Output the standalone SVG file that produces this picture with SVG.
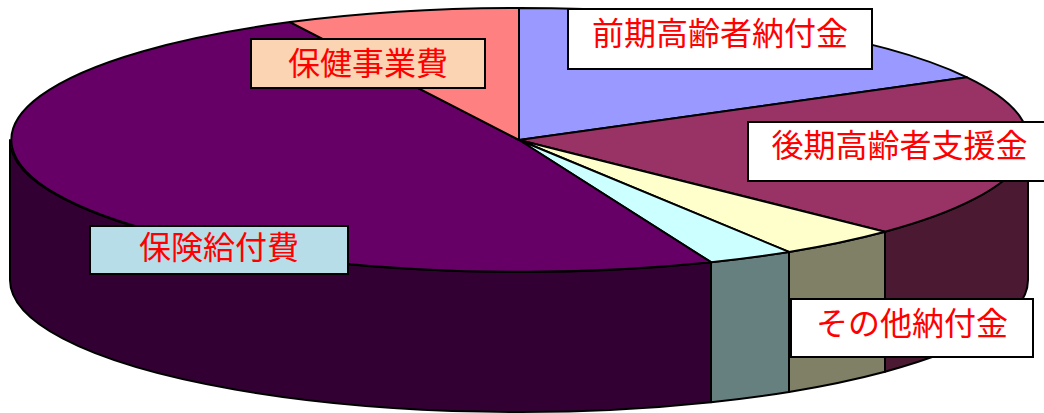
<svg xmlns="http://www.w3.org/2000/svg" width="1044" height="413" viewBox="0 0 1044 413">
<style>
.s{stroke:#000;stroke-width:2;stroke-linejoin:round}
.box{stroke:#000;stroke-width:2}
.lbl{font-family:"Noto Sans CJK JP","Noto Sans CJK SC",sans-serif;font-size:32px;fill:#FF0000;text-anchor:middle}
</style>
<rect width="1044" height="413" fill="#fff"/>
<g id="pie">
<g id="sides">
<path class="s" fill="#4C1933" d="M1028,140 A509,132 0 0 1 885,231.7 L885,371.7 A509,132 0 0 0 1028,280 Z"/>
<path class="s" fill="#808066" d="M885,231.7 A509,132 0 0 1 789,251.9 L789,391.9 A509,132 0 0 0 885,371.7 Z"/>
<path class="s" fill="#668080" d="M789,251.9 A509,132 0 0 1 711,262.2 L711,402.2 A509,132 0 0 0 789,391.9 Z"/>
<path class="s" fill="#330033" d="M711,262.2 A509,132 0 0 1 10,140 L10,280 A509,132 0 0 0 711,402.2 Z"/>
</g>
<g id="tops">
<path class="s" fill="#9999FF" d="M519,140 L519,8 A509,132 0 0 1 967,77.3 Z"/>
<path class="s" fill="#993366" d="M519,140 L967,77.3 A509,132 0 0 1 885,231.7 Z"/>
<path class="s" fill="#FFFFCC" d="M519,140 L885,231.7 A509,132 0 0 1 789,251.9 Z"/>
<path class="s" fill="#CCFFFF" d="M519,140 L789,251.9 A509,132 0 0 1 711,262.2 Z"/>
<path class="s" fill="#660066" d="M519,140 L711,262.2 A509,132 0 0 1 290,22.1 Z"/>
<path class="s" fill="#FF8080" d="M519,140 L290,22.1 A509,132 0 0 1 519,8 Z"/>
</g>
</g>
<g id="label-hoken-jigyo">
<rect class="box" x="251" y="39" width="234" height="49" fill="#FBD4B4" stroke="#1F2F5F"/>
<text class="lbl" x="368" y="75">保健事業費</text>
</g>
<g id="label-zenki">
<rect class="box" x="568" y="9" width="304" height="60" fill="#fff"/>
<text class="lbl" x="720" y="45">前期高齢者納付金</text>
</g>
<g id="label-kouki">
<rect class="box" x="748" y="122" width="303" height="59" fill="#fff"/>
<text class="lbl" x="899.5" y="157">後期高齢者支援金</text>
</g>
<g id="label-hoken-kyufu">
<rect class="box" x="90" y="226" width="258" height="48" fill="#B7DDE8"/>
<text class="lbl" x="219" y="259">保険給付費</text>
</g>
<g id="label-sonota">
<rect class="box" x="791" y="299" width="242" height="58" fill="#fff"/>
<text class="lbl" x="912" y="335">その他納付金</text>
</g>
</svg>
